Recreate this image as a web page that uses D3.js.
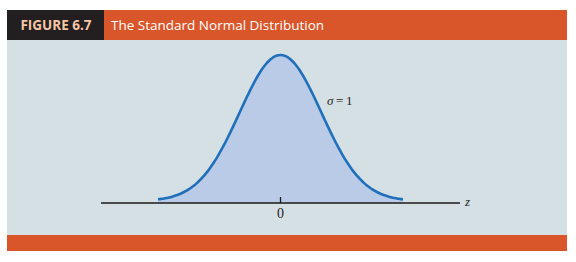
<!DOCTYPE html>
<html>
<head>
<meta charset="utf-8">
<script src="https://cdn.jsdelivr.net/npm/d3@7"></script>
<style>
  html, body { margin: 0; padding: 0; background: #fff; }
</style>
</head>
<body>
<div id="chart"></div>
<script>
// Chart data
const zValues = d3.range(-3, 3.0001, 0.05);
const densities = zValues.map(z => Math.exp(-z * z / 2) / Math.sqrt(2 * Math.PI));
const tickValues = [0];
const tickLabels = ["0"];
const figureLabel = "FIGURE 6.7";
const figureTitle = "The Standard Normal Distribution";
const sigmaLabel = "1";

const width = 576, height = 262;

const svg = d3.select("#chart").append("svg")
    .attr("width", width)
    .attr("height", height);

// Panel + header
svg.append("rect").attr("x", 7).attr("y", 40).attr("width", 560).attr("height", 195).attr("fill", "#d5e0e5");
svg.append("rect").attr("x", 7).attr("y", 10).attr("width", 560).attr("height", 30).attr("fill", "#d9552a");
svg.append("rect").attr("x", 7).attr("y", 10).attr("width", 97).attr("height", 30).attr("fill", "#231f20");
svg.append("rect").attr("x", 7).attr("y", 235).attr("width", 560).attr("height", 16).attr("fill", "#d9552a");

svg.append("text")
    .attr("x", 56).attr("y", 30)
    .attr("text-anchor", "middle")
    .attr("font-family", "'Open Sans', sans-serif")
    .attr("font-weight", "bold")
    .attr("font-size", "13.5px")
    .attr("fill", "#f6c6a6")
    .text(figureLabel);

svg.append("text")
    .attr("x", 111).attr("y", 30)
    .attr("font-family", "'Open Sans', sans-serif")
    .attr("font-size", "13.5px")
    .attr("fill", "#ffffff")
    .text(figureTitle);

// Scales
const x = d3.scaleLinear().domain([-3, 3]).range([158, 403]);
const y = d3.scaleLinear().domain([0, d3.max(densities)]).range([201, 55]);
const axisY = 203;

const pts = zValues.map((z, i) => [z, densities[i]]);

// Shaded area
svg.append("path")
    .datum(pts)
    .attr("fill", "#bacbe8")
    .attr("d", d3.area()
        .x(d => x(d[0]))
        .y0(axisY)
        .y1(d => y(d[1]))
        .curve(d3.curveBasis));

// Axis line
svg.append("line")
    .attr("x1", 101).attr("x2", 460)
    .attr("y1", axisY).attr("y2", axisY)
    .attr("stroke", "#1a1a1a").attr("stroke-width", 1.4);

// Ticks
svg.selectAll(".tick")
    .data(tickValues)
    .enter().append("line")
    .attr("x1", d => x(d)).attr("x2", d => x(d))
    .attr("y1", axisY - 6).attr("y2", axisY)
    .attr("stroke", "#1a1a1a").attr("stroke-width", 1.3);

svg.selectAll(".ticklabel")
    .data(tickValues)
    .enter().append("text")
    .attr("x", d => x(d)).attr("y", 218)
    .attr("text-anchor", "middle")
    .attr("font-family", "'Liberation Serif', serif")
    .attr("font-size", "14px")
    .attr("fill", "#231f20")
    .text((d, i) => tickLabels[i]);

// Curve
svg.append("path")
    .datum(pts)
    .attr("fill", "none")
    .attr("stroke", "#1f6fba")
    .attr("stroke-width", 2.6)
    .attr("d", d3.line()
        .x(d => x(d[0]))
        .y(d => y(d[1]))
        .curve(d3.curveBasis));

// Labels
svg.append("text")
    .attr("x", 465).attr("y", 206)
    .attr("font-family", "'Liberation Serif', serif")
    .attr("font-style", "italic")
    .attr("font-size", "13px")
    .attr("fill", "#231f20")
    .text("z");

const sig = svg.append("text")
    .attr("x", 327).attr("y", 105)
    .attr("font-family", "'Liberation Serif', serif")
    .attr("font-size", "13px")
    .attr("fill", "#231f20");
sig.append("tspan").attr("font-style", "italic").text("σ");
sig.append("tspan").text("\u2009=\u2009" + sigmaLabel);
</script>
</body>
</html>
